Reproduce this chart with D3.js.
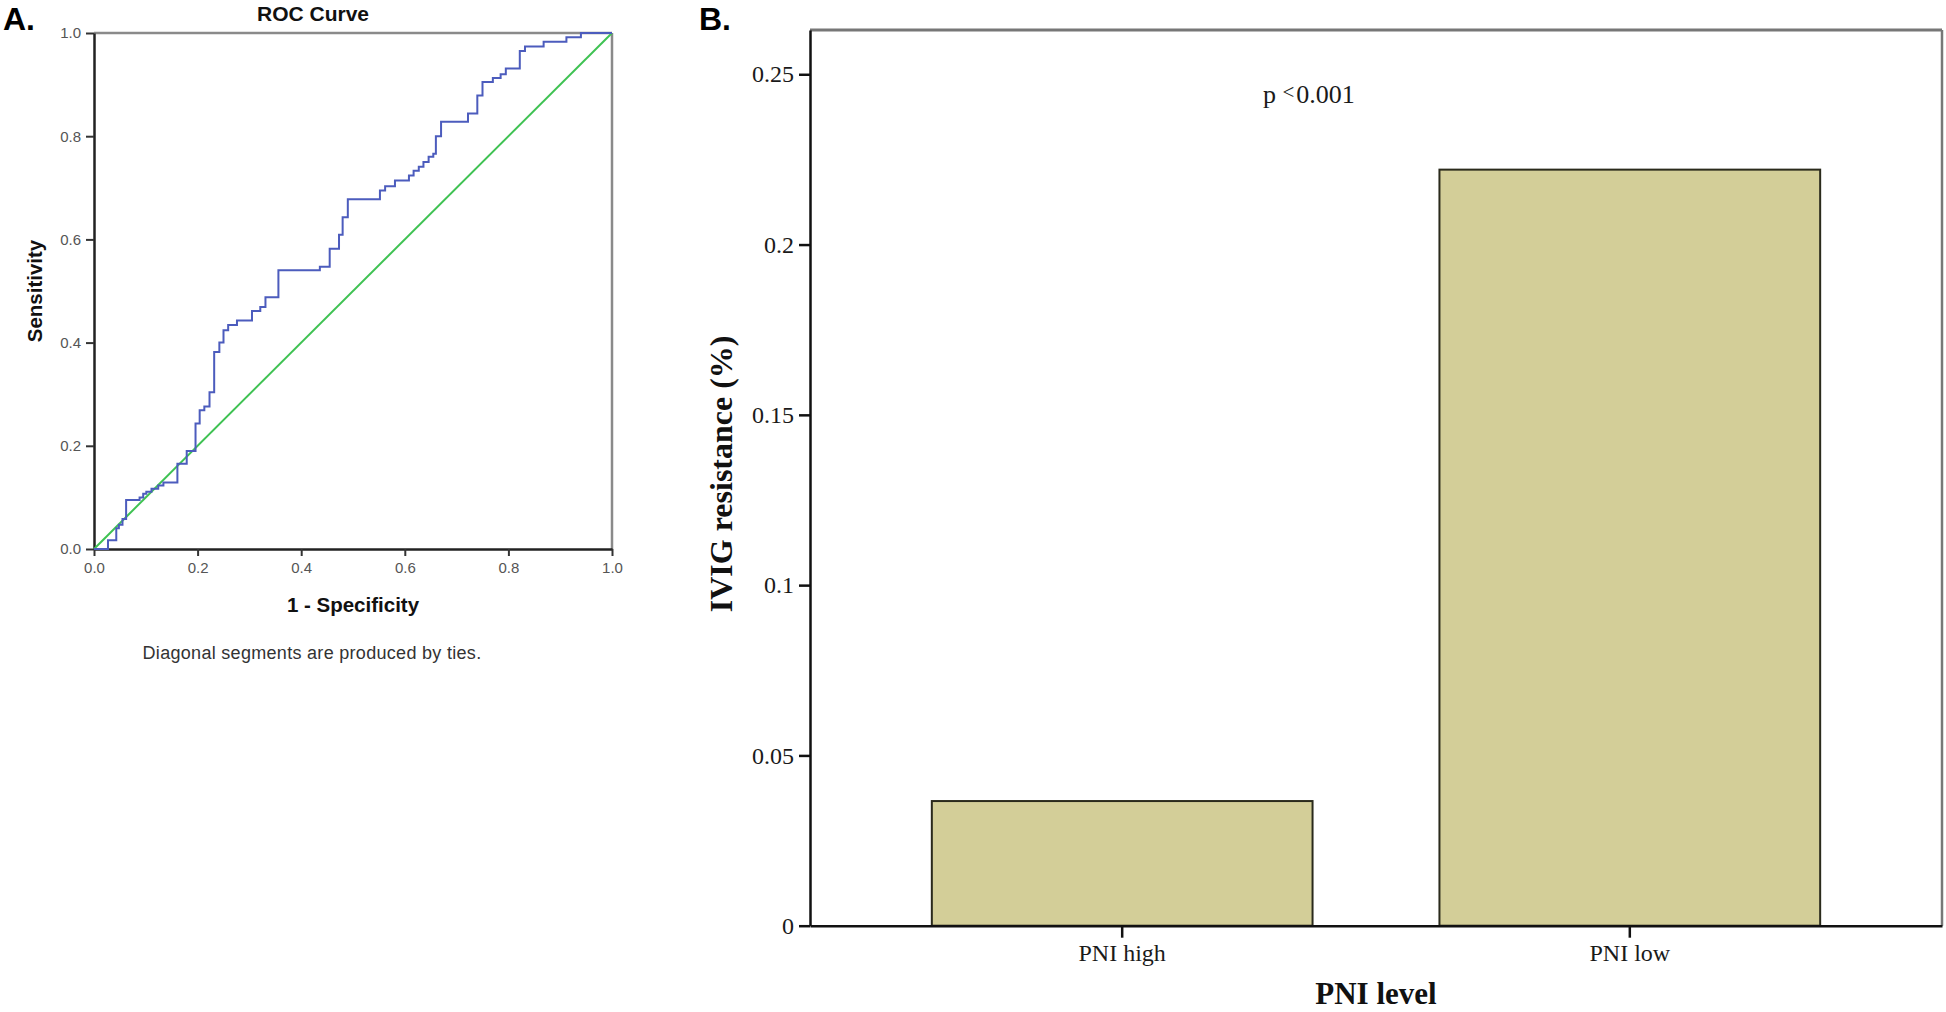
<!DOCTYPE html>
<html>
<head>
<meta charset="utf-8">
<script src="https://cdn.jsdelivr.net/npm/d3@7"></script>
<style>
  html, body { margin: 0; padding: 0; background: #ffffff; }
  svg { display: block; }
</style>
</head>
<body>
<svg id="chart" width="1946" height="1012"></svg>
<script>
// ---------------- DATA ----------------
// ROC curve corners (1 - specificity, sensitivity), drawn as steps
const rocFpr = [0, 0.027, 0.043, 0.048, 0.055, 0.062, 0.088, 0.095, 0.101, 0.111, 0.124, 0.134,
  0.161, 0.179, 0.196, 0.204, 0.213, 0.223, 0.232, 0.242, 0.250, 0.259, 0.276, 0.305, 0.321,
  0.331, 0.356, 0.436, 0.455, 0.473, 0.480, 0.490, 0.552, 0.562, 0.581, 0.608, 0.617, 0.627,
  0.636, 0.646, 0.655, 0.660, 0.670, 0.722, 0.740, 0.750, 0.770, 0.785, 0.795, 0.822, 0.832,
  0.868, 0.912, 0.940, 1.0];
const rocTpr = [0, 0.017, 0.040, 0.047, 0.058, 0.095, 0.100, 0.107, 0.111, 0.117, 0.123, 0.129,
  0.165, 0.190, 0.243, 0.269, 0.276, 0.304, 0.382, 0.400, 0.424, 0.434, 0.443, 0.461, 0.469,
  0.488, 0.540, 0.547, 0.582, 0.609, 0.643, 0.678, 0.695, 0.703, 0.714, 0.724, 0.733, 0.741,
  0.750, 0.760, 0.766, 0.800, 0.828, 0.844, 0.879, 0.905, 0.913, 0.920, 0.931, 0.965, 0.974,
  0.983, 0.992, 1.0, 1.0];
const refX = [0, 1];
const refY = [0, 1];
const rocTicks = [0, 0.2, 0.4, 0.6, 0.8, 1.0];

const barCategories = ["PNI high", "PNI low"];
const barValues = [0.0366, 0.222];
const barTicks = [0, 0.05, 0.1, 0.15, 0.2, 0.25];
const barTickLabels = ["0", "0.05", "0.1", "0.15", "0.2", "0.25"];
const barYMax = 0.263;

// ---------------- CHART ----------------
const svg = d3.select("#chart");
svg.append("rect").attr("width", 1946).attr("height", 1012).attr("fill", "#fff");

const sans = "'Liberation Sans', Arial, sans-serif";
const serif = "'Liberation Serif', 'Times New Roman', serif";

// ===== Panel A: ROC =====
const A = { l: 94, r: 612, t: 33, b: 549 };
const xA = d3.scaleLinear().domain([0, 1]).range([A.l, A.r]);
const yA = d3.scaleLinear().domain([0, 1]).range([A.b, A.t]);

svg.append("line").attr("x1", A.l).attr("x2", A.r).attr("y1", A.t).attr("y2", A.t)
  .attr("stroke", "#8a8a8a").attr("stroke-width", 2.5);
svg.append("line").attr("x1", A.r).attr("x2", A.r).attr("y1", A.t).attr("y2", A.b)
  .attr("stroke", "#8a8a8a").attr("stroke-width", 2.5);

const axAx = svg.append("g").attr("transform", `translate(0,${A.b})`)
  .call(d3.axisBottom(xA).tickValues(rocTicks).tickFormat(d3.format(".1f")).tickSize(7).tickPadding(6).tickSizeOuter(0));
const axAy = svg.append("g").attr("transform", `translate(${A.l},0)`)
  .call(d3.axisLeft(yA).tickValues(rocTicks).tickFormat(d3.format(".1f")).tickSize(8).tickPadding(5).tickSizeOuter(0));
[axAx, axAy].forEach(g => {
  g.select(".domain").attr("stroke", "#222").attr("stroke-width", 2.5);
  g.selectAll(".tick line").attr("stroke", "#333").attr("stroke-width", 2);
  g.selectAll(".tick text").attr("font-family", sans).attr("font-size", 15).attr("fill", "#555");
});

svg.append("path")
  .datum(refX.map((x, i) => [x, refY[i]]))
  .attr("d", d3.line().x(d => xA(d[0])).y(d => yA(d[1])))
  .attr("fill", "none").attr("stroke", "#3fc253").attr("stroke-width", 2);

svg.append("path")
  .datum(rocFpr.map((x, i) => [x, rocTpr[i]]))
  .attr("d", d3.line().x(d => xA(d[0])).y(d => yA(d[1])).curve(d3.curveStepAfter))
  .attr("fill", "none").attr("stroke", "#4c5cbd").attr("stroke-width", 2);

svg.append("text").attr("x", 313).attr("y", 21).attr("text-anchor", "middle")
  .attr("font-family", sans).attr("font-weight", "bold").attr("font-size", 21).attr("fill", "#111")
  .text("ROC Curve");
svg.append("text").attr("x", (A.l + A.r) / 2).attr("y", 612).attr("text-anchor", "middle")
  .attr("font-family", sans).attr("font-weight", "bold").attr("font-size", 20.5).attr("fill", "#111")
  .text("1 - Specificity");
svg.append("text").attr("transform", `translate(42,${(A.t + A.b) / 2}) rotate(-90)`).attr("text-anchor", "middle")
  .attr("font-family", sans).attr("font-weight", "bold").attr("font-size", 20.5).attr("fill", "#111")
  .text("Sensitivity");
svg.append("text").attr("x", 312).attr("y", 659).attr("text-anchor", "middle")
  .attr("font-family", sans).attr("font-size", 18).attr("fill", "#333").attr("letter-spacing", 0.3)
  .text("Diagonal segments are produced by ties.");
svg.append("text").attr("x", 3).attr("y", 30)
  .attr("font-family", sans).attr("font-weight", "bold").attr("font-size", 32).attr("fill", "#000")
  .text("A.");

// ===== Panel B: bar chart =====
const B = { l: 810, r: 1942, t: 30, b: 925.7 };
const xB = d3.scaleBand().domain(barCategories).range([B.l, B.r]).paddingInner(0.25).paddingOuter(0.24);
const yB = d3.scaleLinear().domain([0, barYMax]).range([B.b, B.t]);

svg.append("line").attr("x1", B.l).attr("x2", B.r).attr("y1", B.t).attr("y2", B.t)
  .attr("stroke", "#777").attr("stroke-width", 3);
svg.append("line").attr("x1", B.r).attr("x2", B.r).attr("y1", B.t).attr("y2", B.b)
  .attr("stroke", "#777").attr("stroke-width", 2.5);

svg.append("g").selectAll("rect").data(barCategories).join("rect")
  .attr("x", d => xB(d))
  .attr("width", xB.bandwidth())
  .attr("y", (d, i) => yB(barValues[i]))
  .attr("height", (d, i) => yB(0) - yB(barValues[i]))
  .attr("fill", "#d3ce98").attr("stroke", "#2a2a1c").attr("stroke-width", 2);

const axBx = svg.append("g").attr("transform", `translate(0,${B.b})`)
  .call(d3.axisBottom(xB).tickSize(12).tickPadding(6).tickSizeOuter(0));
const axBy = svg.append("g").attr("transform", `translate(${B.l},0)`)
  .call(d3.axisLeft(yB).tickValues(barTicks).tickFormat((d, i) => barTickLabels[i]).tickSize(11).tickPadding(5).tickSizeOuter(0));
[axBx, axBy].forEach(g => {
  g.select(".domain").attr("stroke", "#111").attr("stroke-width", 2.5);
  g.selectAll(".tick line").attr("stroke", "#111").attr("stroke-width", 2.5);
  g.selectAll(".tick text").attr("font-family", serif).attr("font-size", 24).attr("fill", "#1a1a1a");
});

const pText = svg.append("text").attr("x", 1263).attr("y", 102.5)
  .attr("font-family", serif).attr("font-size", 26).attr("fill", "#1a1a1a");
pText.append("tspan").text("p ");
pText.append("tspan").attr("font-size", 21).attr("dy", -4).text("<");
pText.append("tspan").attr("dy", 4).attr("dx", 2).text("0.001");

svg.append("text").attr("x", (B.l + B.r) / 2).attr("y", 1004).attr("text-anchor", "middle")
  .attr("font-family", serif).attr("font-weight", "bold").attr("font-size", 31).attr("fill", "#111")
  .text("PNI level");
svg.append("text").attr("transform", `translate(732,${(B.t + B.b) / 2 - 4}) rotate(-90)`).attr("text-anchor", "middle")
  .attr("font-family", serif).attr("font-weight", "bold").attr("font-size", 32).attr("fill", "#111")
  .text("IVIG resistance (%)");
svg.append("text").attr("x", 699).attr("y", 30)
  .attr("font-family", sans).attr("font-weight", "bold").attr("font-size", 32).attr("fill", "#000")
  .text("B.");
</script>
</body>
</html>
